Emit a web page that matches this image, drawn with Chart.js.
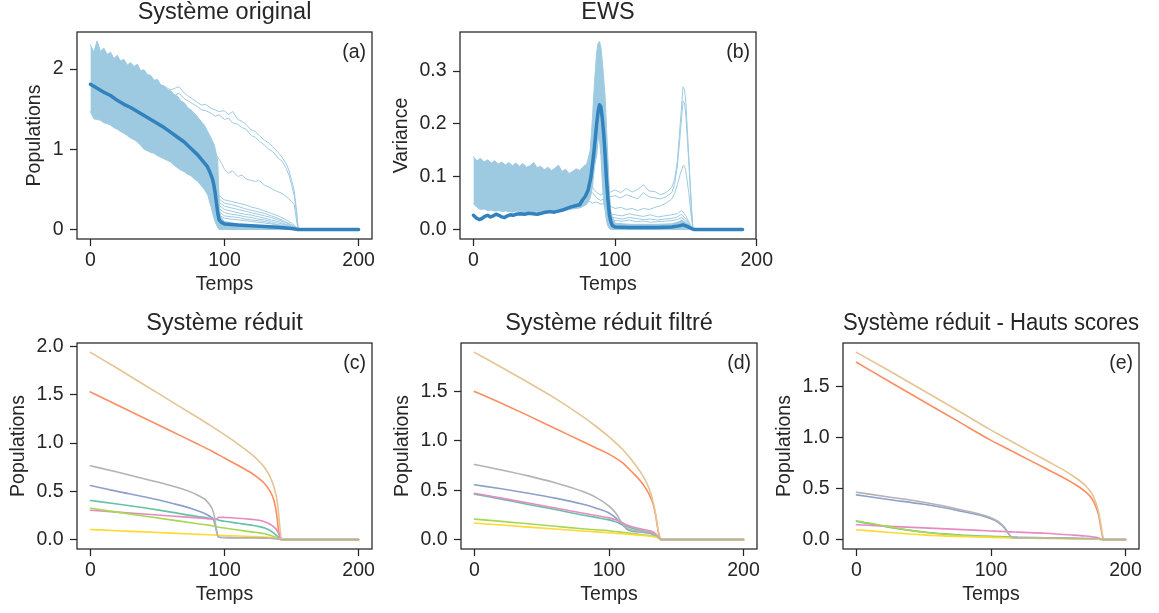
<!DOCTYPE html>
<html lang="fr">
<head>
<meta charset="utf-8">
<title>Système original, EWS, Système réduit</title>
<script src="https://cdn.jsdelivr.net/npm/chart.js@4.4.1/dist/chart.umd.min.js"></script>
<style>
  html, body { margin: 0; padding: 0; background: #fff; overflow: hidden; }
  #page { position: relative; width: 1159px; height: 613px; }
  #page canvas { position: absolute; }
</style>
</head>
<body>
<div id="page"></div>
<script>
// ===== DATA =====
const xTickValues = [0, 100, 200];
const yTicksA = [0, 1, 2];
const yTicksB = [0, 0.1, 0.2, 0.3];
const yTicksC = [0, 0.5, 1, 1.5, 2];
const yTicksDE = [0, 0.5, 1, 1.5];

// (a) Système original : envelope of the dense bundle of runs
const timeBandA = [0, 2.5, 5, 7.5, 10, 12.5, 15, 17.5, 20, 22.5, 25, 27.5, 30, 32.5, 35, 37.5, 40, 42.5, 45, 47.5,
  50, 52.5, 55, 57.5, 60, 62.5, 65, 67.5, 70, 72.5, 75, 77.5, 80, 82.5, 85, 87.5, 90, 92.5, 95,
  96, 97, 100, 105, 110, 120, 130, 140, 150, 155];
const bandHighA = [2.30, 2.21, 2.35, 2.22, 2.26, 2.18, 2.21, 2.13, 2.17, 2.10, 2.12, 2.05, 2.08, 2.03, 2.06, 1.98, 1.99, 1.93, 1.92, 1.86,
  1.87, 1.80, 1.79, 1.74, 1.73, 1.68, 1.66, 1.60, 1.58, 1.52, 1.49, 1.45, 1.40, 1.35, 1.30, 1.22, 1.14, 1.05, 0.85,
  0.30, 0.16, 0.10, 0.085, 0.07, 0.055, 0.04, 0.03, 0.012, 0];
const bandLowA = [1.47, 1.38, 1.37, 1.36, 1.33, 1.32, 1.30, 1.27, 1.25, 1.22, 1.20, 1.17, 1.14, 1.12, 1.09, 1.05, 1.00, 0.98, 0.96, 0.95,
  0.92, 0.90, 0.88, 0.86, 0.84, 0.80, 0.77, 0.74, 0.72, 0.69, 0.67, 0.63, 0.60, 0.55, 0.50, 0.43, 0.28, 0.12, 0.02,
  0, 0, 0, 0, 0, 0, 0, 0, 0, 0];

// runs that collapse late (around t = 155)
const timeOutA = [50, 55, 60, 63, 66, 70, 73, 76, 80, 83, 86, 90, 93, 96, 100, 103, 106, 110, 113, 116,
  120, 123, 126, 130, 133, 136, 140, 143, 146, 148, 150, 152, 154, 155];
const outHighA1 = [1.82, 1.78, 1.74, 1.76, 1.78, 1.70, 1.66, 1.63, 1.58, 1.55, 1.56, 1.51, 1.49, 1.47, 1.48, 1.43, 1.47, 1.37, 1.35, 1.31,
  1.24, 1.22, 1.17, 1.11, 1.08, 1.03, 0.96, 0.90, 0.82, 0.74, 0.62, 0.48, 0.20, 0];
const outHighA2 = [1.76, 1.72, 1.69, 1.67, 1.70, 1.63, 1.60, 1.57, 1.53, 1.49, 1.48, 1.45, 1.41, 1.43, 1.37, 1.39, 1.33, 1.31, 1.27, 1.25,
  1.17, 1.15, 1.10, 1.05, 1.00, 0.97, 0.89, 0.85, 0.76, 0.68, 0.56, 0.42, 0.15, 0];
const timeMidA = [85, 90, 95, 98, 100, 103, 106, 110, 113, 116, 120, 123, 126, 130, 133, 136, 140, 143, 146, 150, 152, 154, 155];
const outMidA = [1.20, 1.02, 0.90, 0.82, 0.75, 0.70, 0.73, 0.66, 0.68, 0.63, 0.61, 0.60, 0.61, 0.55, 0.53, 0.50, 0.47, 0.45, 0.41, 0.35, 0.31, 0.08, 0];

// runs that collapse at t = 95 but decay slowly afterwards
const timeTailA = [93, 96, 100, 105, 110, 115, 120, 125, 130, 135, 140, 145, 150, 153, 155];
const tailA1 = [0.95, 0.42, 0.37, 0.35, 0.33, 0.31, 0.28, 0.26, 0.23, 0.20, 0.17, 0.13, 0.08, 0.04, 0];
const tailA2 = [0.90, 0.38, 0.33, 0.31, 0.29, 0.26, 0.24, 0.22, 0.20, 0.17, 0.14, 0.10, 0.06, 0.03, 0];
const tailA3 = [0.85, 0.34, 0.29, 0.27, 0.25, 0.23, 0.21, 0.19, 0.17, 0.15, 0.12, 0.09, 0.05, 0.02, 0];
const tailA4 = [0.80, 0.30, 0.25, 0.23, 0.21, 0.19, 0.18, 0.16, 0.14, 0.12, 0.10, 0.07, 0.04, 0.02, 0];
const tailA5 = [0.75, 0.26, 0.21, 0.19, 0.18, 0.16, 0.15, 0.13, 0.12, 0.10, 0.08, 0.06, 0.03, 0.01, 0];
const tailA6 = [0.70, 0.22, 0.17, 0.16, 0.15, 0.13, 0.12, 0.11, 0.10, 0.08, 0.06, 0.05, 0.03, 0.01, 0];
const tailA7 = [0.65, 0.18, 0.14, 0.13, 0.12, 0.11, 0.10, 0.09, 0.08, 0.07, 0.05, 0.04, 0.02, 0.01, 0];

const timeMeanA = [0, 5, 10, 15, 20, 25, 30, 35, 40, 45, 50, 55, 60, 65, 70, 75, 80, 84, 87, 89,
  91, 92, 93, 94, 95, 96, 97, 98, 100, 110, 120, 130, 140, 150, 155, 200];
const meanA = [1.81, 1.76, 1.71, 1.67, 1.61, 1.56, 1.52, 1.47, 1.42, 1.37, 1.32, 1.27, 1.21, 1.15, 1.09, 1.01, 0.93, 0.85, 0.79, 0.72,
  0.63, 0.56, 0.46, 0.33, 0.20, 0.12, 0.10, 0.085, 0.07, 0.056, 0.047, 0.038, 0.028, 0.014, 0, 0];

// (b) EWS : variance
const timeBandB = [0, 2.5, 5, 7.5, 10, 12.5, 15, 17.5, 20, 22.5, 25, 27.5, 30, 32.5, 35, 37.5, 40, 42.5, 45, 47.5,
  50, 52.5, 55, 57.5, 60, 62.5, 65, 67.5, 70, 72.5, 75, 77.5, 80, 82.5,
  84, 85.5, 87, 88, 89, 90, 91, 92, 93, 94, 95, 96, 97, 98,
  100, 110, 120, 130, 140, 145, 147, 150, 153, 155];
const bandHighB = [0.138, 0.130, 0.135, 0.128, 0.132, 0.126, 0.130, 0.124, 0.128, 0.122, 0.127, 0.121, 0.126, 0.120, 0.125, 0.118, 0.121, 0.127, 0.117, 0.120,
  0.113, 0.118, 0.112, 0.116, 0.122, 0.110, 0.114, 0.106, 0.110, 0.115, 0.112, 0.119, 0.124, 0.150,
  0.210, 0.280, 0.335, 0.352, 0.356, 0.345, 0.318, 0.285, 0.250, 0.190, 0.130, 0.070, 0.035, 0.025,
  0.012, 0.010, 0.010, 0.010, 0.011, 0.015, 0.018, 0.013, 0.005, 0];
const bandLowB = [0.049, 0.042, 0.038, 0.039, 0.036, 0.037, 0.035, 0.036, 0.034, 0.035, 0.034, 0.033, 0.035, 0.034, 0.033, 0.034, 0.035, 0.033, 0.034, 0.035,
  0.034, 0.035, 0.036, 0.034, 0.036, 0.037, 0.036, 0.038, 0.039, 0.040, 0.041, 0.044, 0.048, 0.060,
  0.080, 0.120, 0.140, 0.170, 0.170, 0.140, 0.090, 0.050, 0.035, 0.015, 0.006, 0.002, 0, 0,
  0, 0, 0, 0, 0, 0, 0, 0, 0, 0];

const timeOutB = [75, 78, 81, 84, 87, 90, 93, 96, 100, 104, 108, 112, 116, 120, 124, 128, 132, 136, 140, 142,
  144, 146, 148, 149, 150, 152, 154, 155];
const outB1 = [0.080, 0.085, 0.075, 0.080, 0.070, 0.065, 0.072, 0.070, 0.075, 0.070, 0.078, 0.071, 0.076, 0.085, 0.073, 0.072, 0.066, 0.070, 0.080, 0.095,
  0.130, 0.200, 0.270, 0.265, 0.240, 0.140, 0.040, 0];
const outB2 = [0.070, 0.072, 0.065, 0.070, 0.060, 0.055, 0.060, 0.062, 0.064, 0.060, 0.066, 0.062, 0.058, 0.070, 0.062, 0.060, 0.058, 0.062, 0.070, 0.085,
  0.120, 0.180, 0.243, 0.240, 0.215, 0.130, 0.035, 0];
const outB3 = [0.060, 0.058, 0.055, 0.050, 0.052, 0.048, 0.050, 0.045, 0.040, 0.042, 0.038, 0.040, 0.036, 0.040, 0.038, 0.042, 0.045, 0.050, 0.058, 0.068,
  0.085, 0.105, 0.121, 0.120, 0.110, 0.070, 0.020, 0];
const timeSmallB = [96, 100, 105, 110, 115, 120, 125, 130, 135, 140, 144, 147, 150, 153, 155];
const smallB1 = [0.030, 0.028, 0.026, 0.030, 0.027, 0.025, 0.028, 0.024, 0.026, 0.028, 0.030, 0.036, 0.026, 0.010, 0];
const smallB2 = [0.025, 0.022, 0.020, 0.023, 0.021, 0.019, 0.020, 0.018, 0.020, 0.021, 0.024, 0.029, 0.020, 0.008, 0];
const smallB3 = [0.020, 0.017, 0.016, 0.018, 0.015, 0.016, 0.014, 0.015, 0.016, 0.017, 0.019, 0.023, 0.016, 0.006, 0];

const timeMeanB = [0, 2, 4, 6, 8, 10, 12, 14, 16, 18, 20, 22, 24, 26, 28, 30,
  33, 36, 39, 42, 45, 48, 51, 54, 57, 60, 63, 66, 69, 72, 75,
  77, 79, 81, 83, 85,
  86, 87, 88, 89, 90, 91, 92, 93, 94, 95, 96, 97, 98,
  100, 110, 120, 130, 140, 145, 148, 151, 154, 156, 170, 190];
const meanB = [0.027, 0.022, 0.019, 0.021, 0.025, 0.027, 0.024, 0.026, 0.029, 0.027, 0.024, 0.023, 0.026, 0.028, 0.027, 0.029,
  0.030, 0.029, 0.031, 0.030, 0.029, 0.031, 0.033, 0.034, 0.033, 0.035, 0.037, 0.040, 0.043, 0.045, 0.047,
  0.056, 0.063, 0.075, 0.100, 0.145,
  0.172, 0.200, 0.223, 0.236, 0.232, 0.210, 0.180, 0.140, 0.092, 0.055, 0.028, 0.015, 0.008,
  0.005, 0.004, 0.004, 0.004, 0.005, 0.007, 0.009, 0.006, 0.002, 0, 0, 0];

// (c) Système réduit
const timeC = [0, 20, 40, 60, 80, 88, 92, 94, 95, 96, 100, 110, 120, 126, 130, 134, 137, 139, 140, 141, 142, 143, 150, 200];
const tealC = [0.405, 0.37, 0.33, 0.285, 0.24, 0.225, 0.215, 0.21, 0.205, 0.2, 0.19, 0.17, 0.15, 0.135, 0.12, 0.095, 0.065, 0.04, 0.028, 0.015, 0.005, 0, 0, 0];
const orangeC = [1.53, 1.395, 1.26, 1.125, 0.99, 0.935, 0.905, 0.89, 0.883, 0.875, 0.845, 0.77, 0.69, 0.63, 0.58, 0.5, 0.4, 0.25, 0.13, 0.04, 0, 0, 0, 0];
const blueC = [0.56, 0.5, 0.445, 0.38, 0.3, 0.25, 0.2, 0.09, 0.035, 0.025, 0.022, 0.02, 0.02, 0.018, 0.017, 0.015, 0.012, 0.01, 0.008, 0.005, 0.002, 0, 0, 0];
const pinkC = [0.305, 0.285, 0.265, 0.245, 0.225, 0.215, 0.21, 0.212, 0.225, 0.232, 0.23, 0.222, 0.21, 0.2, 0.185, 0.16, 0.13, 0.1, 0.075, 0.045, 0.015, 0, 0, 0];
const greenC = [0.325, 0.285, 0.245, 0.205, 0.165, 0.15, 0.14, 0.135, 0.13, 0.128, 0.12, 0.1, 0.08, 0.07, 0.06, 0.045, 0.03, 0.02, 0.014, 0.008, 0.003, 0, 0, 0];
const yellowC = [0.105, 0.092, 0.08, 0.067, 0.055, 0.05, 0.048, 0.047, 0.046, 0.045, 0.043, 0.038, 0.033, 0.03, 0.027, 0.023, 0.018, 0.013, 0.01, 0.006, 0.002, 0, 0, 0];
const tanC = [1.94, 1.775, 1.605, 1.435, 1.265, 1.195, 1.16, 1.142, 1.133, 1.124, 1.087, 0.99, 0.885, 0.81, 0.745, 0.65, 0.54, 0.42, 0.32, 0.17, 0.04, 0, 0, 0];
const greyC = [0.765, 0.7, 0.63, 0.56, 0.46, 0.38, 0.27, 0.1, 0.04, 0.025, 0.022, 0.02, 0.02, 0.018, 0.017, 0.015, 0.012, 0.01, 0.008, 0.005, 0.002, 0, 0, 0];

// (d) Système réduit filtré
const timeD = [0, 20, 40, 60, 80, 90, 100, 105, 110, 113, 116, 120, 125, 130, 133, 135, 136, 137, 138, 139, 140, 150, 200];
const tealD = [0.46, 0.41, 0.355, 0.305, 0.25, 0.225, 0.2, 0.18, 0.15, 0.135, 0.12, 0.105, 0.09, 0.075, 0.06, 0.045, 0.035, 0.02, 0.008, 0, 0, 0, 0];
const orangeD = [1.5, 1.38, 1.255, 1.125, 0.995, 0.93, 0.865, 0.825, 0.78, 0.74, 0.7, 0.645, 0.565, 0.455, 0.35, 0.22, 0.13, 0.05, 0.01, 0, 0, 0, 0];
const blueD = [0.555, 0.515, 0.47, 0.42, 0.36, 0.32, 0.27, 0.22, 0.15, 0.11, 0.09, 0.08, 0.075, 0.065, 0.05, 0.035, 0.025, 0.015, 0.005, 0, 0, 0, 0];
const pinkD = [0.47, 0.42, 0.37, 0.32, 0.27, 0.245, 0.22, 0.2, 0.17, 0.15, 0.135, 0.12, 0.105, 0.09, 0.075, 0.055, 0.04, 0.025, 0.01, 0, 0, 0, 0];
const greenD = [0.208, 0.185, 0.16, 0.135, 0.11, 0.1, 0.09, 0.082, 0.075, 0.07, 0.065, 0.058, 0.05, 0.042, 0.035, 0.028, 0.022, 0.015, 0.006, 0, 0, 0, 0];
const yellowD = [0.168, 0.148, 0.127, 0.107, 0.088, 0.079, 0.07, 0.065, 0.06, 0.056, 0.052, 0.048, 0.042, 0.035, 0.03, 0.025, 0.02, 0.014, 0.006, 0, 0, 0, 0];
const tanD = [1.895, 1.745, 1.59, 1.43, 1.25, 1.15, 1.04, 0.98, 0.915, 0.87, 0.82, 0.75, 0.65, 0.51, 0.37, 0.23, 0.14, 0.07, 0.02, 0, 0, 0, 0];
const greyD = [0.76, 0.705, 0.645, 0.575, 0.49, 0.43, 0.34, 0.27, 0.16, 0.12, 0.1, 0.09, 0.085, 0.075, 0.06, 0.045, 0.035, 0.02, 0.008, 0, 0, 0, 0];

// (e) Système réduit - Hauts scores
const timeE = [0, 25, 50, 75, 100, 105, 110, 113, 115, 117, 120, 140, 160, 170, 175, 178, 180, 181, 182, 183, 184, 185, 200];
const tealE = [0.178, 0.12, 0.075, 0.048, 0.032, 0.03, 0.028, 0.027, 0.026, 0.025, 0.024, 0.018, 0.012, 0.009, 0.007, 0.005, 0.004, 0.003, 0.002, 0.001, 0, 0, 0];
const orangeE = [1.733, 1.54, 1.35, 1.16, 0.97, 0.936, 0.903, 0.883, 0.869, 0.856, 0.835, 0.7, 0.56, 0.47, 0.4, 0.32, 0.24, 0.17, 0.09, 0.025, 0, 0, 0];
const blueE = [0.437, 0.39, 0.345, 0.285, 0.205, 0.172, 0.115, 0.058, 0.025, 0.018, 0.017, 0.015, 0.013, 0.011, 0.01, 0.009, 0.008, 0.006, 0.004, 0.002, 0, 0, 0];
const pinkE = [0.146, 0.13, 0.115, 0.1, 0.085, 0.082, 0.079, 0.077, 0.076, 0.075, 0.073, 0.062, 0.045, 0.035, 0.028, 0.022, 0.016, 0.012, 0.007, 0.003, 0, 0, 0];
const greenE = [0.185, 0.125, 0.072, 0.042, 0.027, 0.025, 0.023, 0.022, 0.021, 0.02, 0.019, 0.014, 0.01, 0.008, 0.006, 0.005, 0.004, 0.003, 0.002, 0.001, 0, 0, 0];
const yellowE = [0.097, 0.07, 0.047, 0.032, 0.022, 0.02, 0.019, 0.018, 0.017, 0.017, 0.016, 0.012, 0.009, 0.007, 0.006, 0.005, 0.004, 0.003, 0.002, 0.001, 0, 0, 0];
const tanE = [1.83, 1.645, 1.455, 1.265, 1.07, 1.034, 0.998, 0.976, 0.961, 0.947, 0.925, 0.78, 0.63, 0.53, 0.45, 0.36, 0.27, 0.2, 0.12, 0.04, 0.005, 0, 0];
const greyE = [0.463, 0.415, 0.365, 0.3, 0.215, 0.18, 0.12, 0.06, 0.025, 0.018, 0.017, 0.015, 0.013, 0.011, 0.01, 0.009, 0.008, 0.006, 0.004, 0.002, 0, 0, 0];

// ===== STYLE =====
const FONT = "'Liberation Sans', Arial, sans-serif";
const INK = '#262626';
const LIGHT = '#9ecae1';
const DARK = '#3182bd';
const SET2 = {
  teal: '#66c2a5', orange: '#fc8d62', blue: '#8da0cb', pink: '#e78ac3',
  green: '#a6d854', yellow: '#ffd92f', tan: '#e5c494', grey: '#b3b3b3'
};
const Y_AXIS_W = 72, X_AXIS_H = 62, TITLE_H = 34, RIGHT_PAD = 20;

const pts = (ts, vs) => ts.map((t, i) => ({ x: t, y: vs[i] }));

// thin light-blue run
const run = (ts, vs) => ({ data: pts(ts, vs), borderColor: LIGHT, borderWidth: 1, fill: false, tension: 0 });

// full box around the plot + the panel letter
const framePlugin = {
  id: 'frame',
  afterDraw(chart, args, opts) {
    const { ctx, chartArea: a } = chart;
    ctx.save();
    ctx.strokeStyle = INK;
    ctx.lineWidth = 1.25;
    ctx.strokeRect(a.left, a.top, a.right - a.left, a.bottom - a.top);
    if (opts.letter) {
      ctx.fillStyle = INK;
      ctx.font = `19.5px ${FONT}`;
      ctx.textAlign = 'right';
      ctx.textBaseline = 'middle';
      ctx.fillText(opts.letter, a.right - 6, a.top + 21);
    }
    ctx.restore();
  }
};

function makePanel(p) {
  const [L, T, R, B] = p.box;
  const w = R - L + Y_AXIS_W + RIGHT_PAD;
  const h = B - T + TITLE_H + X_AXIS_H;
  const canvas = document.createElement('canvas');
  canvas.width = w;
  canvas.height = h;
  canvas.style.left = (L - Y_AXIS_W) + 'px';
  canvas.style.top = (T - TITLE_H) + 'px';
  canvas.style.width = w + 'px';
  canvas.style.height = h + 'px';
  document.getElementById('page').appendChild(canvas);

  const tickFont = { family: FONT, size: 19.5 };
  const gridOpts = { display: true, drawOnChartArea: false, drawTicks: true, tickLength: 7, tickWidth: 1.25, tickColor: INK };

  return new Chart(canvas, {
    type: 'line',
    data: { datasets: p.datasets },
    options: {
      responsive: false,
      animation: false,
      devicePixelRatio: 1,
      layout: { padding: { left: 0, top: 0, right: RIGHT_PAD, bottom: 0 } },
      elements: { point: { radius: 0 }, line: { borderCapStyle: 'round', borderJoinStyle: 'round' } },
      plugins: {
        legend: { display: false },
        tooltip: { enabled: false },
        // centred over the plot box, not over the whole canvas
        title: {
          display: true, fullSize: false, text: p.title, color: INK,
          font: { family: FONT, size: 23.5, weight: 'normal' },
          padding: { top: 0, bottom: TITLE_H - 23.5 * 1.2 }
        },
        frame: { letter: p.letter }
      },
      scales: {
        x: {
          type: 'linear', min: p.xRange[0], max: p.xRange[1],
          afterFit: s => { s.height = X_AXIS_H; },
          afterBuildTicks: s => { s.ticks = xTickValues.map(v => ({ value: v })); },
          grid: gridOpts,
          border: { display: false },
          ticks: { color: INK, font: tickFont, padding: 3, maxRotation: 0, callback: v => String(v) },
          title: { display: true, text: 'Temps', color: INK, font: tickFont, padding: { top: 0, bottom: 4.3 } }
        },
        y: {
          type: 'linear', min: p.yRange[0], max: p.yRange[1],
          afterFit: s => { s.width = Y_AXIS_W; },
          afterBuildTicks: s => { s.ticks = p.yTicks.map(v => ({ value: v })); },
          grid: gridOpts,
          border: { display: false },
          ticks: { color: INK, font: tickFont, padding: 6.5, callback: v => v.toFixed(p.decimals) },
          title: { display: true, text: p.yTitle, color: INK, font: tickFont, padding: { top: p.yTitlePad, bottom: 0 } }
        }
      }
    },
    plugins: [framePlugin]
  });
}

// Set2 curves, drawn so that grey ends on top (matplotlib order reversed)
function set2Lines(ts, s) {
  return ['grey', 'tan', 'yellow', 'green', 'pink', 'blue', 'orange', 'teal'].map(k => ({
    data: pts(ts, s[k]), borderColor: SET2[k], borderWidth: 1.6, fill: false, cubicInterpolationMode: 'monotone'
  }));
}

// ===== PANELS =====
makePanel({
  box: [77, 32, 372, 239], xRange: [-10, 210], yRange: [-0.118, 2.461],
  yTicks: yTicksA, decimals: 0, title: 'Système original', yTitle: 'Populations', yTitlePad: 18.3, letter: '(a)',
  datasets: [
    { data: pts(timeMeanA, meanA), borderColor: DARK, borderWidth: 3.5, fill: false, tension: 0 },
    run(timeOutA, outHighA1), run(timeOutA, outHighA2), run(timeMidA, outMidA),
    run(timeTailA, tailA1), run(timeTailA, tailA2), run(timeTailA, tailA3), run(timeTailA, tailA4),
    run(timeTailA, tailA5), run(timeTailA, tailA6), run(timeTailA, tailA7),
    { data: pts(timeBandA, bandHighA), borderColor: LIGHT, borderWidth: 1, backgroundColor: LIGHT, fill: '+1', tension: 0 },
    run(timeBandA, bandLowA)
  ]
});

makePanel({
  box: [460, 32, 756, 239], xRange: [-9.5, 199.5], yRange: [-0.0178, 0.3738],
  yTicks: yTicksB, decimals: 1, title: 'EWS', yTitle: 'Variance', yTitlePad: 2.3, letter: '(b)',
  datasets: [
    { data: pts(timeMeanB, meanB), borderColor: DARK, borderWidth: 3.5, fill: false, tension: 0 },
    run(timeOutB, outB1), run(timeOutB, outB2), run(timeOutB, outB3),
    run(timeSmallB, smallB1), run(timeSmallB, smallB2), run(timeSmallB, smallB3),
    { data: pts(timeBandB, bandHighB), borderColor: LIGHT, borderWidth: 1, backgroundColor: LIGHT, fill: '+1', tension: 0 },
    run(timeBandB, bandLowB)
  ]
});

makePanel({
  box: [77, 343, 372, 549], xRange: [-10, 210], yRange: [-0.097, 2.037],
  yTicks: yTicksC, decimals: 1, title: 'Système réduit', yTitle: 'Populations', yTitlePad: 1.6, letter: '(c)',
  datasets: set2Lines(timeC, { teal: tealC, orange: orangeC, blue: blueC, pink: pinkC, green: greenC, yellow: yellowC, tan: tanC, grey: greyC })
});

makePanel({
  box: [461, 343, 757, 549], xRange: [-10, 210], yRange: [-0.0948, 1.99],
  yTicks: yTicksDE, decimals: 1, title: 'Système réduit filtré', yTitle: 'Populations', yTitlePad: 2.3, letter: '(d)',
  datasets: set2Lines(timeD, { teal: tealD, orange: orangeD, blue: blueD, pink: pinkD, green: greenD, yellow: yellowD, tan: tanD, grey: greyD })
});

makePanel({
  box: [843, 343, 1139, 549], xRange: [-10, 210], yRange: [-0.0915, 1.9215],
  yTicks: yTicksDE, decimals: 1, title: 'Système réduit - Hauts scores', yTitle: 'Populations', yTitlePad: 2.3, letter: '(e)',
  datasets: set2Lines(timeE, { teal: tealE, orange: orangeE, blue: blueE, pink: pinkE, green: greenE, yellow: yellowE, tan: tanE, grey: greyE })
});
</script>
</body>
</html>
